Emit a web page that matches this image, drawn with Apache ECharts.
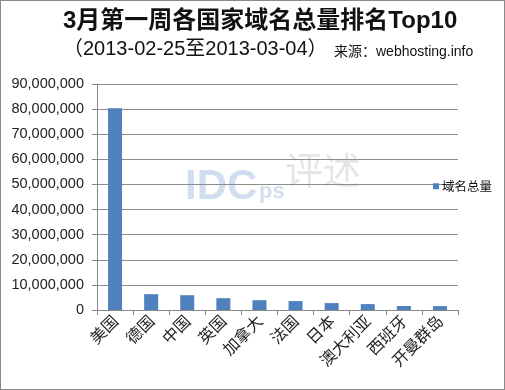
<!DOCTYPE html>
<html><head><meta charset="utf-8">
<script src="https://cdn.jsdelivr.net/npm/echarts@6/dist/echarts.min.js"></script>
<style>html,body{margin:0;padding:0;background:#fff}#c{width:505px;height:390px;box-sizing:border-box;border:1px solid #8a8a8a}</style>
</head><body><div id="c"></div>
<script>
const categories = ['美国','德国','中国','英国','加拿大','法国','日本','澳大利亚','西班牙','开曼群岛'];
const domainTotals = [80300000, 6300000, 5900000, 4700000, 3900000, 3550000, 2750000, 2350000, 1600000, 1550000];
const seriesName = '域名总量';
const yTicks = {min: 0, max: 90000000, interval: 10000000};

const chart = echarts.init(document.getElementById('c'));
chart.setOption({
  animation: false,
  title: [
    {text: '3月第一周各国家域名总量排名Top10', left: 62, top: 8, padding: 0,
     textStyle: {fontSize: 24, fontWeight: 'bold', color: '#111', fontFamily: 'Liberation Sans, Noto Sans CJK SC'}},
    {text: '（2013-02-25至2013-03-04）', left: 62, top: 38, padding: 0,
     textStyle: {fontSize: 20, fontWeight: 'normal', color: '#111', fontFamily: 'Liberation Sans, Noto Sans CJK SC'}},
    {text: '来源：webhosting.info', left: 333, top: 44, padding: 0,
     textStyle: {fontSize: 14, fontWeight: 'normal', color: '#111', fontFamily: 'Liberation Sans, Noto Sans CJK SC'}}
  ],
  graphic: [
    {type: 'text', left: 184, top: 165, silent: true,
     style: {text: 'IDC', fontSize: 42, fontWeight: 'bold', fill: 'rgba(120,160,210,0.35)', fontFamily: 'Liberation Sans'}},
    {type: 'text', left: 258, top: 180, silent: true,
     style: {text: 'ps', fontSize: 22, fontWeight: 'bold', fill: 'rgba(120,160,210,0.35)', fontFamily: 'Liberation Sans'}},
    {type: 'text', left: 284, top: 150, silent: true,
     style: {text: '评述', fontSize: 38, fill: 'rgba(150,150,150,0.25)', fontFamily: 'Noto Sans CJK SC'}}
  ],
  legend: {
    data: [seriesName], left: 427, top: 174, itemWidth: 6, itemHeight: 6, itemGap: 3,
    icon: 'rect',
    textStyle: {fontSize: 12.5, color: '#111', padding: [0,0,0,-2], fontFamily: 'Noto Sans CJK SC'}
  },
  grid: {left: 96, right: 46, top: 83, bottom: 79, containLabel: false},
  xAxis: {
    type: 'category', data: categories,
    axisLine: {lineStyle: {color: '#888'}},
    axisTick: {show: true, alignWithLabel: false, length: 5, lineStyle: {color: '#888'}},
    axisLabel: {rotate: 45, fontSize: 16, color: '#222', margin: 8, fontFamily: 'Noto Sans CJK SC', interval: 0}
  },
  yAxis: {
    type: 'value', min: yTicks.min, max: yTicks.max, interval: yTicks.interval,
    axisLine: {show: true, lineStyle: {color: '#888'}},
    axisTick: {show: true, length: 5, lineStyle: {color: '#888'}},
    splitLine: {lineStyle: {color: '#8c8c8c'}},
    axisLabel: {fontSize: 14.5, color: '#222', margin: 13, fontFamily: 'Liberation Sans',
      formatter: v => v.toLocaleString('en-US')}
  },
  series: [{
    name: seriesName, type: 'bar', data: domainTotals, barWidth: 14,
    itemStyle: {color: '#4f81bd'}
  }]
});
</script></body></html>
